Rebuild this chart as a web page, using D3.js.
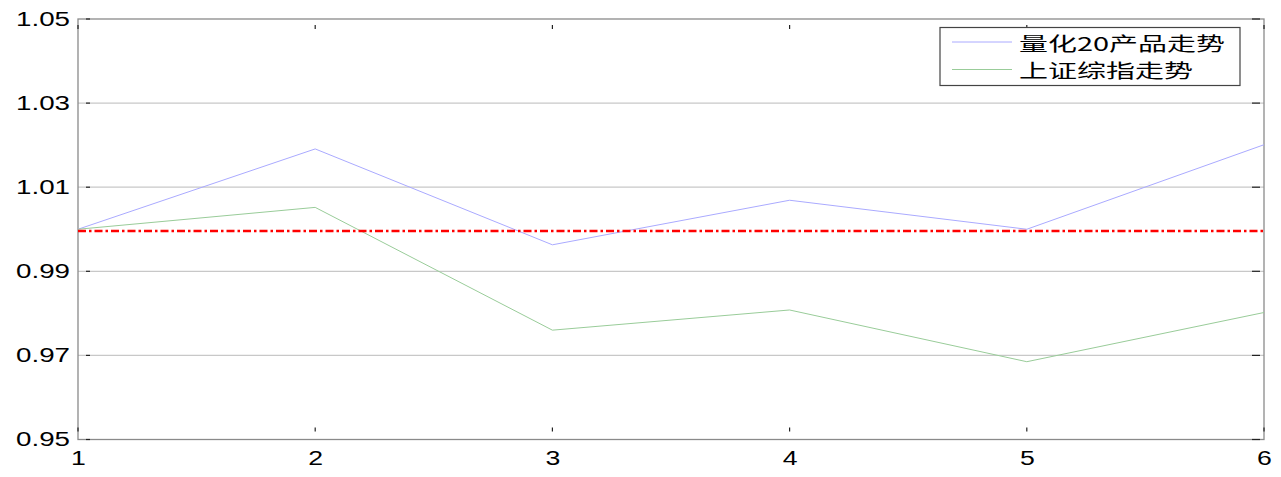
<!DOCTYPE html>
<html><head><meta charset="utf-8">
<script src="https://cdn.jsdelivr.net/npm/d3@7"></script>
<style>body{margin:0;background:#fff}svg{display:block}</style>
</head><body>
<svg id="c" width="1281" height="477"></svg>
<script>
const xValues = [1, 2, 3, 4, 5, 6];
const quantSeries = [1.0000, 1.0191, 0.9963, 1.0069, 1.0000, 1.0201];
const indexSeries = [1.0000, 1.0052, 0.9760, 0.9808, 0.9685, 0.9802];
const baseline = 0.9996;
const yTicks = [0.95, 0.97, 0.99, 1.01, 1.03, 1.05];
const legendLabels = ["量化20产品走势", "上证综指走势"];
const seriesColors = ["#aaaaff", "#99cc99"];

const svg = d3.select("#c");
const L = 78, R = 1264, T = 19, B = 439.5;
const x = d3.scaleLinear().domain([1, 6]).range([L, R]);
const y = d3.scaleLinear().domain([0.95, 1.05]).range([B, T]);
const font = "'Liberation Sans', Arial, sans-serif";

// grid
svg.append("g").selectAll("line").data(yTicks.slice(1, -1)).join("line")
  .attr("x1", L).attr("x2", R).attr("y1", d => y(d)).attr("y2", d => y(d))
  .attr("stroke", "#c8c8c8").attr("stroke-width", 1.2);

// frame
svg.append("rect").attr("x", L).attr("y", T).attr("width", R - L).attr("height", B - T)
  .attr("fill", "none").attr("stroke", "#8a8a8a").attr("stroke-width", 1.3);

// ticks
const tk = svg.append("g").attr("stroke", "#222").attr("stroke-width", 1.2);
yTicks.forEach(v => {
  tk.append("line").attr("x1", L + 8).attr("x2", L + 12).attr("y1", y(v)).attr("y2", y(v));
  tk.append("line").attr("x1", R - 12).attr("x2", R - 4).attr("y1", y(v)).attr("y2", y(v));
});
xValues.forEach(v => {
  tk.append("line").attr("x1", x(v)).attr("x2", x(v)).attr("y1", T + 6).attr("y2", T + 10);
  tk.append("line").attr("x1", x(v)).attr("x2", x(v)).attr("y1", B - 12).attr("y2", B - 8);
});

// axis labels via d3 axes
const yAxis = svg.append("g").attr("transform", `translate(${L},0)`)
  .call(d3.axisLeft(y).tickValues(yTicks).tickSize(0).tickPadding(8).tickFormat(d3.format(".2f")));
yAxis.select(".domain").remove();
yAxis.selectAll("text").attr("font-family", font).attr("font-size", 20).attr("fill", "#000")
  .attr("textLength", 54).attr("lengthAdjust", "spacingAndGlyphs");

const xAxis = svg.append("g").attr("transform", `translate(0,${B})`)
  .call(d3.axisBottom(x).tickValues(xValues).tickSize(0).tickPadding(10.5).tickFormat(d3.format("d")));
xAxis.select(".domain").remove();
xAxis.selectAll("text").attr("font-family", font).attr("font-size", 20.5).attr("fill", "#000")
  .attr("transform", "scale(1.3,1)");

// lines
const line = d3.line().x((d, i) => x(xValues[i])).y(d => y(d));
[quantSeries, indexSeries].forEach((s, i) => {
  svg.append("path").datum(s).attr("d", line).attr("fill", "none")
    .attr("stroke", seriesColors[i]).attr("stroke-width", 1);
});

// baseline
svg.append("line").attr("x1", L).attr("x2", R).attr("y1", y(baseline)).attr("y2", y(baseline))
  .attr("stroke", "#ff0000").attr("stroke-width", 2.6).attr("stroke-dasharray", "8,3,2.5,3");

// legend
const lg = svg.append("g");
lg.append("rect").attr("x", 940).attr("y", 27.5).attr("width", 300).attr("height", 58)
  .attr("fill", "#fff").attr("stroke", "#444").attr("stroke-width", 1.2);
const legendLens = [206, 174];
legendLabels.forEach((t, i) => {
  const cy = 42 + i * 27.5;
  lg.append("line").attr("x1", 952).attr("x2", 1012).attr("y1", cy).attr("y2", cy)
    .attr("stroke", seriesColors[i]).attr("stroke-width", 1);
  lg.append("text").attr("x", 1019).attr("y", cy + 2).attr("dy", "0.36em")
    .attr("font-family", "'Noto Sans CJK SC', 'Liberation Sans', sans-serif").attr("font-size", 19)
    .attr("textLength", legendLens[i]).attr("lengthAdjust", "spacingAndGlyphs")
    .attr("fill", "#000").text(t);
});
</script>
</body></html>
